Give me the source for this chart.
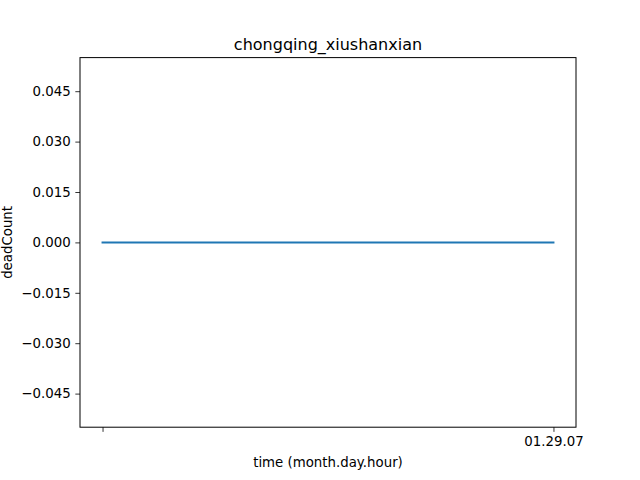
<!DOCTYPE html>
<html lang="en">
    <head>
        <meta charset="UTF-8" />
        <title>chongqing_xiushanxian</title>
        <style>
            body { margin: 0; background: #fff; }
        </style>
    </head>
    <body>
        <div id="main"></div>
        <script src="https://cdn.jsdelivr.net/npm/d3@7"></script>
        <script>
            const svgWidth = 640
            const svgHeight = 480
            const fontFamily = "DejaVu Sans"
            const fontSize = 13.33

            const timeLabels = ["", "01.29.07"]
            const deadCount = [0, 0]
            const yTicks = [-0.045, -0.03, -0.015, 0, 0.015, 0.03, 0.045]

            const plotLeft = 80
            const plotRight = 576
            const plotTop = 57.6
            const plotBottom = 427.2
            const tickLen = 4.67

            main()
            function main() {
                const svg = d3
                    .select("#main")
                    .append("svg")
                    .attr("width", svgWidth)
                    .attr("height", svgHeight)
                    .style("font-family", fontFamily)

                const x = d3
                    .scaleLinear()
                    .domain([-0.05, timeLabels.length - 1 + 0.05])
                    .range([plotLeft, plotRight])
                const y = d3
                    .scaleLinear()
                    .domain([-0.055, 0.055])
                    .range([plotBottom, plotTop])

                // x axis
                const xAxis = d3
                    .axisBottom(x)
                    .tickValues(d3.range(timeLabels.length))
                    .tickFormat((d) => timeLabels[d])
                    .tickSizeInner(tickLen)
                    .tickSizeOuter(0)
                    .tickPadding(4.67)
                const gx = svg
                    .append("g")
                    .attr("transform", `translate(0, ${plotBottom})`)
                    .call(xAxis)
                gx.select(".domain").remove()
                gx.selectAll("line").attr("stroke", "#000").attr("stroke-width", 0.8)
                gx.selectAll("text")
                    .attr("font-size", fontSize)
                    .attr("font-family", fontFamily)
                    .attr("fill", "#000")

                // y axis
                const yAxis = d3
                    .axisLeft(y)
                    .tickValues(yTicks)
                    .tickFormat(d3.format(".3f"))
                    .tickSizeInner(tickLen)
                    .tickSizeOuter(0)
                    .tickPadding(4.67)
                const gy = svg
                    .append("g")
                    .attr("transform", `translate(${plotLeft}, 0)`)
                    .call(yAxis)
                gy.select(".domain").remove()
                gy.selectAll("line").attr("stroke", "#000").attr("stroke-width", 0.8)
                gy.selectAll("text")
                    .attr("font-size", fontSize)
                    .attr("font-family", fontFamily)
                    .attr("fill", "#000")

                // line
                const line = d3
                    .line()
                    .x((d, i) => x(i))
                    .y((d) => y(d))
                svg.append("path")
                    .datum(deadCount)
                    .attr("d", line)
                    .attr("fill", "none")
                    .attr("stroke", "#1f77b4")
                    .attr("stroke-width", 2)
                    .attr("stroke-linecap", "square")

                // frame
                svg.append("rect")
                    .attr("x", plotLeft)
                    .attr("y", plotTop)
                    .attr("width", plotRight - plotLeft)
                    .attr("height", plotBottom - plotTop)
                    .attr("fill", "none")
                    .attr("stroke", "#000")
                    .attr("stroke-width", 1)

                svg.append("text")
                    .attr("x", (plotLeft + plotRight) / 2)
                    .attr("y", 50)
                    .attr("text-anchor", "middle")
                    .attr("font-size", 16)
                    .text("chongqing_xiushanxian")

                svg.append("text")
                    .attr("x", (plotLeft + plotRight) / 2)
                    .attr("y", 467)
                    .attr("text-anchor", "middle")
                    .attr("font-size", fontSize)
                    .text("time (month.day.hour)")

                svg.append("text")
                    .attr("transform", `translate(11.5, ${(plotTop + plotBottom) / 2}) rotate(-90)`)
                    .attr("text-anchor", "middle")
                    .attr("font-size", fontSize)
                    .text("deadCount")
            }
        </script>
    </body>
</html>
